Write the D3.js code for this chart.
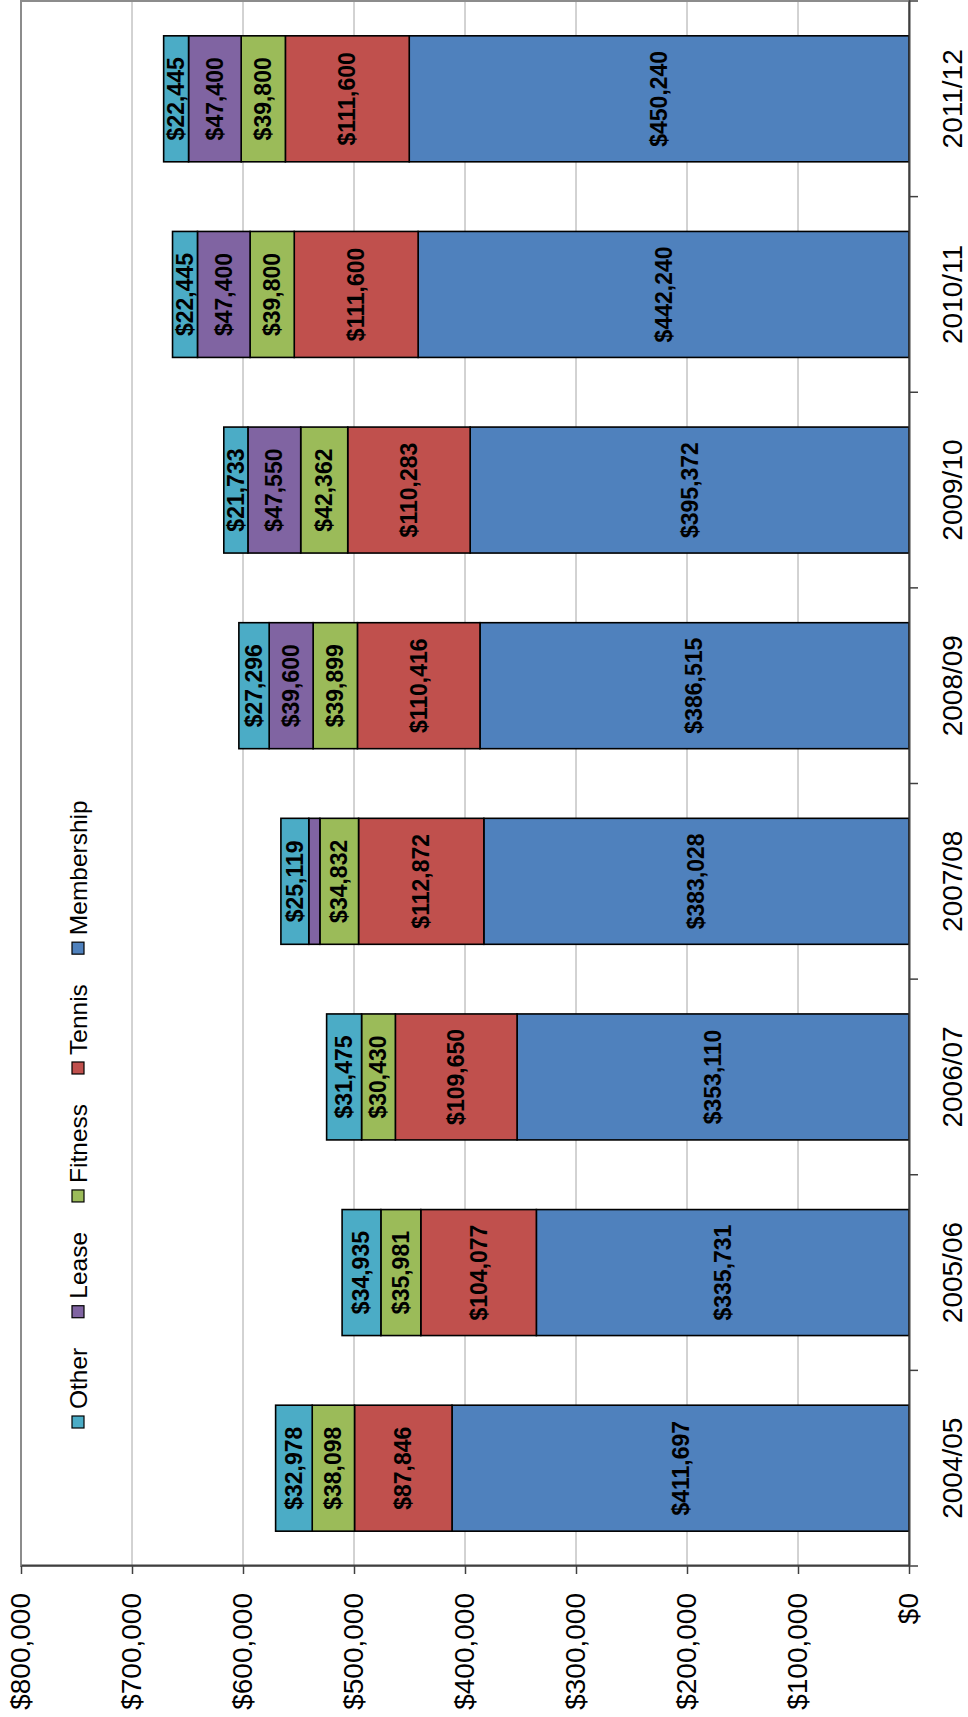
<!DOCTYPE html>
<html>
<head>
<meta charset="utf-8">
<script src="https://cdn.jsdelivr.net/npm/d3@7"></script>
<style>
  html, body { margin: 0; padding: 0; background: #fff; }
  svg { display: block; font-family: "Liberation Sans", Arial, sans-serif; }
</style>
</head>
<body>
<div id="chart"></div>
<script>
// chart values
const categories = ["2004/05", "2005/06", "2006/07", "2007/08", "2008/09", "2009/10", "2010/11", "2011/12"];
const membership = [411697, 335731, 353110, 383028, 386515, 395372, 442240, 450240];
const tennis     = [87846, 104077, 109650, 112872, 110416, 110283, 111600, 111600];
const fitness    = [38098, 35981, 30430, 34832, 39899, 42362, 39800, 39800];
const lease      = [0, 0, 0, 10000, 39600, 47550, 47400, 47400];
const other      = [32978, 34935, 31475, 25119, 27296, 21733, 22445, 22445];
const seriesNames = ["Membership", "Tennis", "Fitness", "Lease", "Other"];
const valueTicks = [0, 100000, 200000, 300000, 400000, 500000, 600000, 700000, 800000];

var colors = {
  Membership: "#4f81bd",
  Tennis: "#c0504d",
  Fitness: "#9bbb59",
  Lease: "#8064a2",
  Other: "#4bacc6"
};

var rows = categories.map(function(c, i) {
  return { cat: c, Membership: membership[i], Tennis: tennis[i], Fitness: fitness[i], Lease: lease[i], Other: other[i] };
});

// the chart is drawn as a normal column chart, then turned a quarter left
var W = 1717, H = 968;
var svg = d3.select("#chart").append("svg")
    .attr("width", 968)
    .attr("height", 1717);

var g = svg.append("g")
    .attr("transform", "translate(0," + W + ") rotate(-90)");

var x = d3.scaleBand()
    .domain(categories)
    .range([151, 1716])
    .paddingInner(0.356)
    .paddingOuter(0.178);

var y = d3.scaleLinear()
    .domain([0, 800000])
    .range([909, 21]);

var money = d3.format("$,");

// gridlines
g.append("g").selectAll("line")
  .data(valueTicks.slice(1, -1))
  .enter().append("line")
    .attr("x1", 151).attr("x2", 1716)
    .attr("y1", function(d) { return y(d); })
    .attr("y2", function(d) { return y(d); })
    .attr("stroke", "#a6a6a6")
    .attr("stroke-width", 1);

// plot area border
g.append("rect")
    .attr("x", 151).attr("y", y(800000))
    .attr("width", 1716 - 151).attr("height", y(0) - y(800000))
    .attr("fill", "none")
    .attr("stroke", "#8c8c8c")
    .attr("stroke-width", 2);

// stacked bars
var stack = d3.stack().keys(seriesNames);
var layers = stack(rows);

var layer = g.append("g").selectAll("g")
  .data(layers)
  .enter().append("g")
    .attr("fill", function(d) { return colors[d.key]; });

layer.selectAll("rect")
  .data(function(d) { return d.filter(function(p) { return p[1] - p[0] > 0; }); })
  .enter().append("rect")
    .attr("x", function(d) { return x(d.data.cat); })
    .attr("y", function(d) { return y(d[1]); })
    .attr("width", x.bandwidth())
    .attr("height", function(d) { return y(d[0]) - y(d[1]); })
    .attr("stroke", "#000")
    .attr("stroke-width", 1.6);

// data labels
layer.selectAll("text")
  .data(function(d) { return d.filter(function(p) { return p[1] - p[0] > 15000; }); })
  .enter().append("text")
    .attr("x", function(d) { return x(d.data.cat) + x.bandwidth() / 2; })
    .attr("y", function(d) { return (y(d[0]) + y(d[1])) / 2; })
    .attr("text-anchor", "middle")
    .attr("dominant-baseline", "central")
    .attr("fill", "#000")
    .attr("font-weight", "bold")
    .attr("font-size", 23)
    .text(function(d) { return money(d[1] - d[0]); });

// value axis
var yAxis = g.append("g")
    .attr("transform", "translate(151,0)")
    .call(d3.axisLeft(y).tickValues(valueTicks).tickSize(8).tickSizeOuter(0).tickPadding(19).tickFormat(money));
yAxis.attr("font-size", 28).attr("font-family", null);
yAxis.select(".domain").attr("stroke", "#404040").attr("stroke-width", 2);
yAxis.selectAll(".tick line").attr("stroke", "#404040").attr("stroke-width", 1.5);
yAxis.selectAll(".tick text").attr("fill", "#000");

// category axis
var xAxis = g.append("g")
    .attr("transform", "translate(0,909)")
    .call(d3.axisBottom(x).tickSize(0).tickSizeOuter(0).tickPadding(33));
xAxis.attr("font-size", 28).attr("font-family", null);
xAxis.select(".domain").attr("stroke", "#404040").attr("stroke-width", 2);
xAxis.selectAll(".tick text").attr("fill", "#000");

// tick marks between categories
var edges = categories.map(function(c) { return x(c) - x.step() * x.paddingInner() / 2; });
edges.push(x.range()[1]);
xAxis.selectAll(".edge")
  .data(edges)
  .enter().append("line")
    .attr("class", "edge")
    .attr("x1", function(d) { return d; })
    .attr("x2", function(d) { return d; })
    .attr("y1", 0).attr("y2", 9)
    .attr("stroke", "#404040")
    .attr("stroke-width", 1.5);

// legend
var legend = g.append("g").attr("transform", "translate(289,78)");
var lx = 0;
seriesNames.slice().reverse().forEach(function(name) {
  var item = legend.append("g").attr("transform", "translate(" + lx + ",0)");
  item.append("rect")
      .attr("x", 0).attr("y", -6)
      .attr("width", 12).attr("height", 12)
      .attr("fill", colors[name])
      .attr("stroke", "#000")
      .attr("stroke-width", 1.2);
  var t = item.append("text")
      .attr("x", 19).attr("y", 0)
      .attr("dominant-baseline", "central")
      .attr("font-size", 24.5)
      .text(name);
  lx += 19 + t.node().getComputedTextLength() + 30;
});
</script>
</body>
</html>
